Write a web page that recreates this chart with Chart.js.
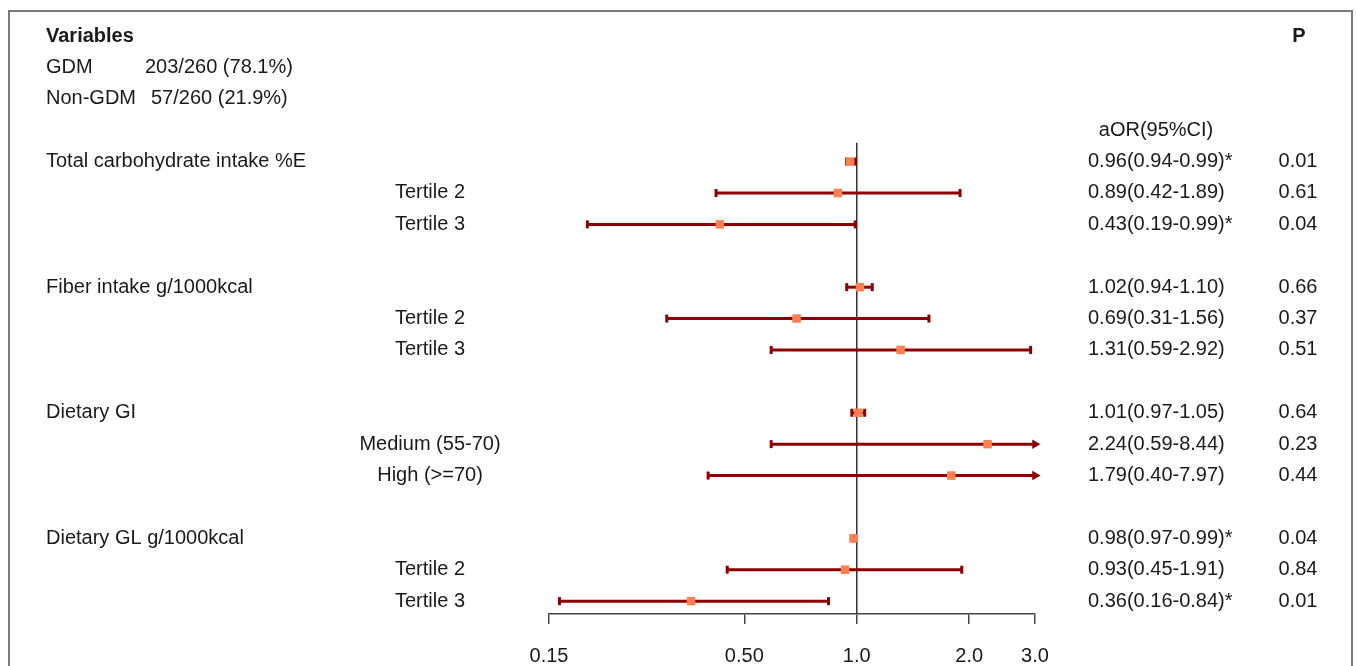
<!DOCTYPE html>
<html>
<head>
<meta charset="utf-8">
<script src="https://cdn.jsdelivr.net/npm/chart.js@4.4.1/dist/chart.umd.min.js"></script>
<style>
  html, body { margin: 0; padding: 0; background: #fff; }
  #wrap { width: 1357px; height: 666px; position: relative; }
</style>
</head>
<body>
<div id="wrap"><canvas id="forest"></canvas></div>
<script>
// ---- data ----
const groupNames = ["Total carbohydrate intake %E", "Fiber intake g/1000kcal", "Dietary GI", "Dietary GL g/1000kcal"];
const subLabels = [["Tertile 2", "Tertile 3"], ["Tertile 2", "Tertile 3"], ["Medium (55-70)", "High (>=70)"], ["Tertile 2", "Tertile 3"]];
const oddsRatio = [0.96, 0.89, 0.43, 1.02, 0.69, 1.31, 1.01, 2.24, 1.79, 0.98, 0.93, 0.36];
const ciLower   = [0.94, 0.42, 0.19, 0.94, 0.31, 0.59, 0.97, 0.59, 0.40, 0.97, 0.45, 0.16];
const ciUpper   = [0.99, 1.89, 0.99, 1.10, 1.56, 2.92, 1.05, 8.44, 7.97, 0.99, 1.91, 0.84];
const significant = [true, false, true, false, false, false, false, false, false, true, false, true];
const pValues   = ["0.01", "0.61", "0.04", "0.66", "0.37", "0.51", "0.64", "0.23", "0.44", "0.04", "0.84", "0.01"];
const groupCounts = [["GDM", "203/260 (78.1%)"], ["Non-GDM", "57/260 (21.9%)"]];
const xTicks = [0.15, 0.5, 1, 2, 3];
const xTickLabels = ["0.15", "0.50", "1.0", "2.0", "3.0"];

const X_MIN = 0.15, X_MAX = 3;
const FONT = '"Liberation Sans", Arial, Helvetica, sans-serif';
const LINE_RED = "#8b0000";
const MARK = "#ff7f50";

// each group: one main row + two sub rows, then a blank slot
const rowSlot = k => 4 + Math.floor(k / 3) * 4 + (k % 3);
const rowLabel = k => (k % 3 === 0 ? groupNames[k / 3 | 0] : subLabels[k / 3 | 0][k % 3 - 1]);
const fmt = v => v.toFixed(2);

// CI segments, one dataset each (upper end clipped at axis max gets an arrow)
const ciSets = oddsRatio.map((_, k) => {
  const clipped = ciUpper[k] > X_MAX;
  return {
    type: "line",
    data: [{ x: ciLower[k], y: rowSlot(k) }, { x: Math.min(ciUpper[k], X_MAX), y: rowSlot(k) }],
    borderColor: LINE_RED,
    backgroundColor: LINE_RED,
    borderWidth: 3,
    pointStyle: ["line", clipped ? "triangle" : "line"],
    pointRotation: 90,
    pointRadius: 4,
    pointBorderWidth: [3, clipped ? 1.5 : 3],
    pointBorderColor: LINE_RED,
    pointBackgroundColor: LINE_RED,
    clip: false,
    order: 1
  };
});

const textPlugin = {
  id: "forestText",
  beforeDraw(chart) {
    const { ctx } = chart;
    ctx.save();
    ctx.fillStyle = "#fff";
    ctx.fillRect(0, 0, chart.width, chart.height);
    ctx.strokeStyle = "#7a7a7a";
    ctx.lineWidth = 2;
    ctx.strokeRect(9, 11, 1343, 700);
    ctx.restore();
  },
  afterDraw(chart) {
    const { ctx } = chart;
    const y = chart.scales.y;
    ctx.save();
    ctx.fillStyle = "#1a1a1a";
    ctx.textBaseline = "middle";

    ctx.font = "bold 20px " + FONT;
    ctx.textAlign = "left";
    ctx.fillText("Variables", 46, y.getPixelForValue(0));
    ctx.textAlign = "center";
    ctx.fillText("P", 1299, y.getPixelForValue(0));

    ctx.font = "20px " + FONT;
    ctx.textAlign = "left";
    const countX = [145, 151];
    groupCounts.forEach((g, i) => {
      ctx.fillText(g[0], 46, y.getPixelForValue(i + 1));
      ctx.fillText(g[1], countX[i], y.getPixelForValue(i + 1));
    });
    ctx.textAlign = "center";
    ctx.fillText("aOR(95%CI)", 1156, y.getPixelForValue(3));

    oddsRatio.forEach((or, k) => {
      const py = y.getPixelForValue(rowSlot(k));
      if (k % 3 === 0) {
        ctx.textAlign = "left";
        ctx.fillText(rowLabel(k), 46, py);
      } else {
        ctx.textAlign = "center";
        ctx.fillText(rowLabel(k), 430, py);
      }
      ctx.textAlign = "left";
      ctx.fillText(`${fmt(or)}(${fmt(ciLower[k])}-${fmt(ciUpper[k])})${significant[k] ? "*" : ""}`, 1088, py);
      ctx.textAlign = "center";
      ctx.fillText(pValues[k], 1298, py);
    });
    ctx.restore();
  }
};

new Chart(document.getElementById("forest"), {
  type: "scatter",
  data: {
    datasets: [
      {
        data: oddsRatio.map((v, k) => ({ x: v, y: rowSlot(k) })),
        pointStyle: "rect",
        pointRadius: 6,
        pointBackgroundColor: MARK,
        pointBorderColor: MARK,
        pointBorderWidth: 0,
        clip: false,
        order: 0
      },
      ...ciSets,
      {
        type: "line",
        data: [{ x: 1, y: 3.4 }, { x: 1, y: 18.41 }],
        borderColor: "#333",
        borderWidth: 1.5,
        pointRadius: 0,
        order: 2
      }
    ]
  },
  options: {
    responsive: true,
    maintainAspectRatio: false,
    animation: false,
    events: [],
    layout: { padding: { left: 549, right: 322, top: 36, bottom: 0 } },
    plugins: { legend: { display: false }, tooltip: { enabled: false } },
    scales: {
      x: {
        type: "logarithmic",
        min: X_MIN,
        max: X_MAX,
        afterBuildTicks: s => { s.ticks = xTicks.map(v => ({ value: v })); },
        afterFit: s => { s.height = 52; },
        grid: { display: true, drawOnChartArea: false, drawTicks: true, tickLength: 10, color: "#444", lineWidth: 1.5 },
        border: { display: true, color: "#444", width: 1.5 },
        ticks: {
          autoSkip: false,
          maxRotation: 0,
          padding: 20,
          color: "#1a1a1a",
          font: { family: FONT, size: 20 },
          callback: (v, i) => xTickLabels[i]
        }
      },
      y: {
        display: false,
        reverse: true,
        min: 0,
        max: 18.41
      }
    }
  },
  plugins: [textPlugin]
});
</script>
</body>
</html>
